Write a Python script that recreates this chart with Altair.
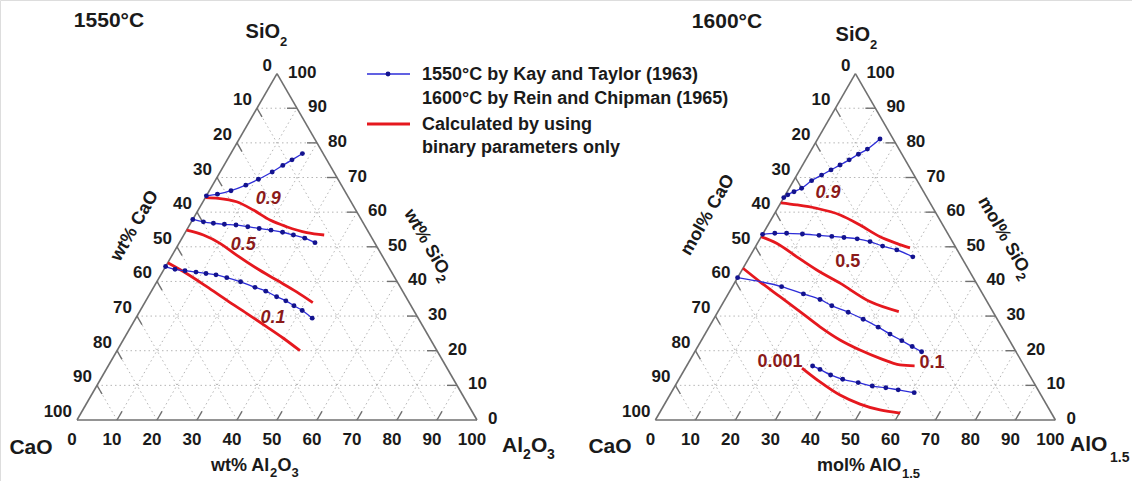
import altair as alt
import numpy as np
import pandas as pd

# ---------------- data: ternary compositions (% Al2O3 or AlO1.5, % SiO2) ----------------
# 1550 C, wt%  (Kay and Taylor data, blue) and calculated (red)
wt_b1_A = [0, 2.5, 5.4, 8.3, 10.6, 13.0, 14.7, 16.2, 17.9]
wt_b1_S = [64.7, 65.2, 66.2, 67.8, 69.5, 71.6, 73.5, 75.1, 76.9]
wt_b2_A = [0, 3.0, 5.7, 8.6, 11.6, 14.8, 17.9, 21.1, 24.3, 27.4, 30.7, 33.9]
wt_b2_S = [57.9, 57.2, 56.8, 56.5, 56.3, 55.8, 55.3, 54.8, 54.2, 53.4, 52.5, 51.2]
wt_b3_A = [0, 2.75, 5.45, 8.4, 11.1, 13.8, 16.9, 20.95, 25.35, 28.6, 32.1, 35.0, 37.75, 40.5, 44.1]
wt_b3_S = [44.3, 43.5, 43.1, 42.7, 42.3, 41.9, 41.1, 39.9, 38.3, 37.2, 35.6, 34.4, 33.0, 31.6, 29.4]
wt_r09_A = [0, 3.3, 8.4, 13.8, 19.4, 24.5, 30.4, 35.1]
wt_r09_S = [64.2, 64.0, 63.0, 60.6, 57.7, 55.8, 54.1, 53.4]
wt_r05_A = [0, 4.9, 10.25, 16.1, 23.0, 29.7, 36.4, 42.0]
wt_r05_S = [54.8, 53.4, 51.0, 47.6, 43.8, 40.4, 37.0, 33.9]
wt_r01_A = [0, 6.25, 13.2, 20.1, 27.0, 34.0, 39.8, 45.75]
wt_r01_S = [45.4, 42.3, 38.5, 34.6, 30.8, 26.9, 23.6, 20.0]

# 1600 C, mol%  (Rein and Chipman data, blue) and calculated (red)
mol_b1_A = [0, 0.6, 1.7, 3.1, 4.5, 6.2, 7.8, 9.35, 10.9, 12.4, 13.9, 15.6]
mol_b1_S = [64.2, 65.0, 65.9, 66.9, 69.1, 70.7, 72.2, 73.6, 75.1, 76.7, 78.2, 81.1]
mol_b2_A = [0, 2.9, 5.85, 9.9, 14.25, 17.6, 20.8, 24.3, 27.9, 31.7, 35.8, 40.8]
mol_b2_S = [53.6, 53.9, 53.9, 53.7, 53.3, 53.0, 52.7, 52.3, 51.5, 50.2, 49.1, 47.1]
mol_b3_A = [0, 12.3, 18.8, 23.75, 27.6, 32.65, 37.4, 42.3, 46.25, 50.15, 53.6, 56.7]
mol_b3_S = [41.1, 38.5, 36.4, 34.8, 33.0, 31.1, 29.1, 26.8, 24.8, 22.9, 21.2, 19.7]
mol_b4_A = [31.5, 33.85, 37.3, 40.95, 45.3, 49.3, 52.95, 56.35, 60.75]
mol_b4_S = [15.6, 14.6, 13.0, 11.75, 10.8, 9.8, 9.3, 8.7, 7.9]
mol_r09_A = [0, 4.3, 9.8, 16.6, 23.0, 29.7, 34.8, 38.8]
mol_r09_S = [62.7, 62.1, 61.1, 59.2, 56.3, 52.9, 51.0, 49.7]
mol_r05_A = [0, 4.8, 11.8, 18.7, 26.4, 36.5, 45.2]
mol_r05_S = [52.9, 51.0, 47.1, 43.3, 39.5, 34.2, 31.3]
mol_r01_A = [0, 6.2, 13.35, 20.5, 27.7, 34.6, 41.05, 47.25, 53.2, 57.0]
mol_r01_S = [43.8, 39.9, 35.6, 31.3, 26.9, 23.1, 20.2, 17.8, 15.9, 15.6]
mol_r0001_A = [29.15, 35.65, 42.55, 48.85, 54.7, 60.15]
mol_r0001_S = [15.0, 11.0, 7.2, 4.6, 2.9, 2.0]

# curve labels: text, % Al2O3, % SiO2, italic
wt_lab_text = ["0.9", "0.5", "0.1"]
wt_lab_A = [15.9, 16.3, 34.3]
wt_lab_S = [63.8, 50.5, 29.4]
wt_lab_it = [True, True, True]
mol_lab_text = ["0.9", "0.5", "0.1", "0.001"]
mol_lab_A = [10.4, 25.3, 60.9, 22.8]
mol_lab_S = [65.5, 45.6, 16.5, 16.7]
mol_lab_it = [True, False, False, False]

tick_values = [0, 10, 20, 30, 40, 50, 60, 70, 80, 90, 100]

# ---------------- layout ----------------
SQ = np.sqrt(3) / 2
OFF_L = 0.0
OFF_R = 144.6
FONT = "Liberation Sans, Arial, sans-serif"
TXT = "#1a1a1a"
EDGE = "#707070"
BLUE_LINE = "#2d2dd8"
BLUE_DOT = "#13138f"
RED = "#e5181e"
LABRED = "#8b1a1a"


def tern(A, S, off):
    A = np.asarray(A, float)
    S = np.asarray(S, float)
    return A + S / 2 + off, S * SQ


xs = alt.Scale(domain=[-19.25, 263.75], nice=False, zero=False)
ys = alt.Scale(domain=[-15.25, 105.0], nice=False, zero=False)

# curves
rows = []
curves = [
    ("wb1", wt_b1_A, wt_b1_S, OFF_L, "blue"), ("wb2", wt_b2_A, wt_b2_S, OFF_L, "blue"),
    ("wb3", wt_b3_A, wt_b3_S, OFF_L, "blue"),
    ("wr09", wt_r09_A, wt_r09_S, OFF_L, "red"), ("wr05", wt_r05_A, wt_r05_S, OFF_L, "red"),
    ("wr01", wt_r01_A, wt_r01_S, OFF_L, "red"),
    ("mb1", mol_b1_A, mol_b1_S, OFF_R, "blue"), ("mb2", mol_b2_A, mol_b2_S, OFF_R, "blue"),
    ("mb3", mol_b3_A, mol_b3_S, OFF_R, "blue"), ("mb4", mol_b4_A, mol_b4_S, OFF_R, "blue"),
    ("mr09", mol_r09_A, mol_r09_S, OFF_R, "red"), ("mr05", mol_r05_A, mol_r05_S, OFF_R, "red"),
    ("mr01", mol_r01_A, mol_r01_S, OFF_R, "red"), ("mr0001", mol_r0001_A, mol_r0001_S, OFF_R, "red"),
]
for name, A, S, off, kind in curves:
    X, Y = tern(A, S, off)
    for i, (x, y) in enumerate(zip(X, Y)):
        rows.append(dict(series=name, kind=kind, i=i, X=x, Y=y))
cdf = pd.DataFrame(rows)
blue_df = cdf[cdf.kind == "blue"]
red_df = cdf[cdf.kind == "red"]

# grid, edges, ticks
grid_rows, edge_rows, tick_rows = [], [], []
TL = 2.5
for off in (OFF_L, OFF_R):
    for k in tick_values[1:-1]:
        for (a1, s1, a2, s2) in [(0, k, 100 - k, k), (k, 0, k, 100 - k), (100 - k, 0, 0, 100 - k)]:
            x1, y1 = tern(a1, s1, off)
            x2, y2 = tern(a2, s2, off)
            grid_rows.append(dict(x=x1, y=y1, x2=x2, y2=y2))
        for (a1, s1, a2, s2) in [(0, 100 - k, TL, 100 - k - TL), (k, 0, k, TL), (100 - k, k, 100 - k - TL, k)]:
            x1, y1 = tern(a1, s1, off)
            x2, y2 = tern(a2, s2, off)
            tick_rows.append(dict(x=x1, y=y1, x2=x2, y2=y2))
    for (a1, s1, a2, s2) in [(0, 0, 100, 0), (100, 0, 0, 100), (0, 100, 0, 0)]:
        x1, y1 = tern(a1, s1, off)
        x2, y2 = tern(a2, s2, off)
        edge_rows.append(dict(x=x1, y=y1, x2=x2, y2=y2))

gdf = pd.DataFrame(grid_rows)
edf = pd.DataFrame(edge_rows)
tdf = pd.DataFrame(tick_rows)


def seg_layer(df, color, width, dash=None):
    kw = dict(color=color, strokeWidth=width)
    if dash:
        kw["strokeDash"] = dash
    return alt.Chart(df).mark_rule(**kw).encode(
        x=alt.X("x:Q", scale=xs, axis=None), y=alt.Y("y:Q", scale=ys, axis=None),
        x2="x2:Q", y2="y2:Q")


grid = seg_layer(gdf, "#b5b5b5", 1, [1.5, 3])
edges = seg_layer(edf, EDGE, 1.6)
ticks = seg_layer(tdf, EDGE, 1.4)

# tick labels
bot, left, right = [], [], []
for off in (OFF_L, OFF_R):
    for k in tick_values:
        x, y = tern(k, 0, off); bot.append(dict(X=x, Y=y, t=str(k)))
        x, y = tern(0, 100 - k, off); left.append(dict(X=x, Y=y, t=str(k)))
        x, y = tern(100 - k, k, off); right.append(dict(X=x, Y=y, t=str(k)))


def lab_layer(rows, align, dx, dy):
    return alt.Chart(pd.DataFrame(rows)).mark_text(
        align=align, baseline="middle", dx=dx, dy=dy, font=FONT, fontSize=17,
        fontWeight="bold", color=TXT).encode(
        x=alt.X("X:Q", scale=xs, axis=None), y=alt.Y("Y:Q", scale=ys, axis=None), text="t:N")


tick_labels = [lab_layer(bot, "center", -5, 20), lab_layer(left, "right", -5, -8),
               lab_layer(right, "left", 11, -1)]

# data curves
enc = dict(x=alt.X("X:Q", scale=xs, axis=None), y=alt.Y("Y:Q", scale=ys, axis=None),
           detail="series:N", order="i:Q")
blue_lines = alt.Chart(blue_df).mark_line(color=BLUE_LINE, strokeWidth=1.3, interpolate="monotone").encode(**enc)
blue_pts = alt.Chart(blue_df).mark_circle(color=BLUE_DOT, size=24, opacity=1).encode(
    x=alt.X("X:Q", scale=xs, axis=None), y=alt.Y("Y:Q", scale=ys, axis=None))
red_lines = alt.Chart(red_df).mark_line(color=RED, strokeWidth=2.8, interpolate="monotone").encode(**enc)

# curve labels
lrows = []
for texts, As, Ss, its, off in [(wt_lab_text, wt_lab_A, wt_lab_S, wt_lab_it, OFF_L),
                                 (mol_lab_text, mol_lab_A, mol_lab_S, mol_lab_it, OFF_R)]:
    for t, a, s, it in zip(texts, As, Ss, its):
        x, y = tern(a, s, off)
        lrows.append(dict(X=x, Y=y, t=t, it=it))
ldf = pd.DataFrame(lrows)


def curve_lab(df, style):
    return alt.Chart(df).mark_text(font=FONT, fontSize=18, fontWeight="bold", fontStyle=style,
                                   color=LABRED, baseline="middle").encode(
        x=alt.X("X:Q", scale=xs, axis=None), y=alt.Y("Y:Q", scale=ys, axis=None), text="t:N")


clabs = [curve_lab(ldf[ldf.it], "italic"), curve_lab(ldf[~ldf.it], "normal")]

dummy = pd.DataFrame({"a": [0]})


def txt(text, px, py, size, align="center", weight="bold", angle=0, dy=0, color=TXT):
    kw = dict(text=text, align=align, baseline="middle", fontSize=size, fontWeight=weight,
              font=FONT, color=color)
    if angle:
        kw["angle"] = angle
    if dy:
        kw["dy"] = dy
    return alt.Chart(dummy).mark_text(**kw).encode(x=alt.value(px), y=alt.value(py))


texts = [
    txt("1550°C", 109, 21, 21), txt("1600°C", 727, 22, 21),
    # vertex labels
    txt("SiO", 280, 32, 20, "right"), txt("2", 280, 42, 13, "left"),
    txt("SiO", 870, 35, 20, "right"), txt("2", 870, 45, 13, "left"),
    txt("CaO", 31, 448, 21), txt("CaO", 610, 447, 21),
    txt("Al", 502, 446, 21, "left"), txt("2", 523, 455, 14, "left"),
    txt("O", 531, 446, 21, "left"), txt("3", 547, 455, 14, "left"),
    txt("AlO", 1070, 445, 21, "left"), txt("1.5", 1110, 458, 14, "left"),
    # axis titles
    txt("wt% Al", 211, 466, 18, "left"), txt("2", 270, 473, 13, "left"),
    txt("O", 277.5, 466, 18, "left"), txt("3", 291.5, 473, 13, "left"),
    txt("mol% AlO", 817, 466, 18, "left"), txt("1.5", 902, 474, 13, "left"),
    txt("wt% CaO", 135, 226, 18, angle=300), txt("mol% CaO", 708, 215, 18, angle=300),
    txt("wt% SiO", 444, 273, 18, "right", angle=60), txt("2", 444, 273, 13, "left", angle=60, dy=6),
    txt("mol% SiO", 1024, 271, 18, "right", angle=60), txt("2", 1024, 271, 13, "left", angle=60, dy=6),
    # legend
    txt("1550°C by Kay and Taylor (1963)", 422, 75, 18, "left"),
    txt("1600°C by Rein and Chipman (1965)", 422, 99, 18, "left"),
    txt("Calculated by using", 422, 125, 18, "left"),
    txt("binary parameters only", 422, 148, 18, "left"),
]

leg_blue = alt.Chart(dummy).mark_rule(color=BLUE_LINE, strokeWidth=1.3).encode(
    x=alt.value(367), x2=alt.value(410), y=alt.value(74))
leg_dot = alt.Chart(dummy).mark_circle(color=BLUE_DOT, size=24, opacity=1).encode(
    x=alt.value(388), y=alt.value(74))
leg_red = alt.Chart(dummy).mark_rule(color=RED, strokeWidth=2.8).encode(
    x=alt.value(367), x2=alt.value(410), y=alt.value(124))

chart = alt.layer(
    grid, edges, ticks, *tick_labels, red_lines, blue_lines, blue_pts, *clabs, *texts,
    leg_blue, leg_dot, leg_red
).properties(
    width=1132, height=481, padding=0, autosize=alt.AutoSizeParams(type="none")
).configure_view(stroke=None).configure(background="white")

chart.save("out.html", embed_options={"renderer": "svg", "actions": False})
